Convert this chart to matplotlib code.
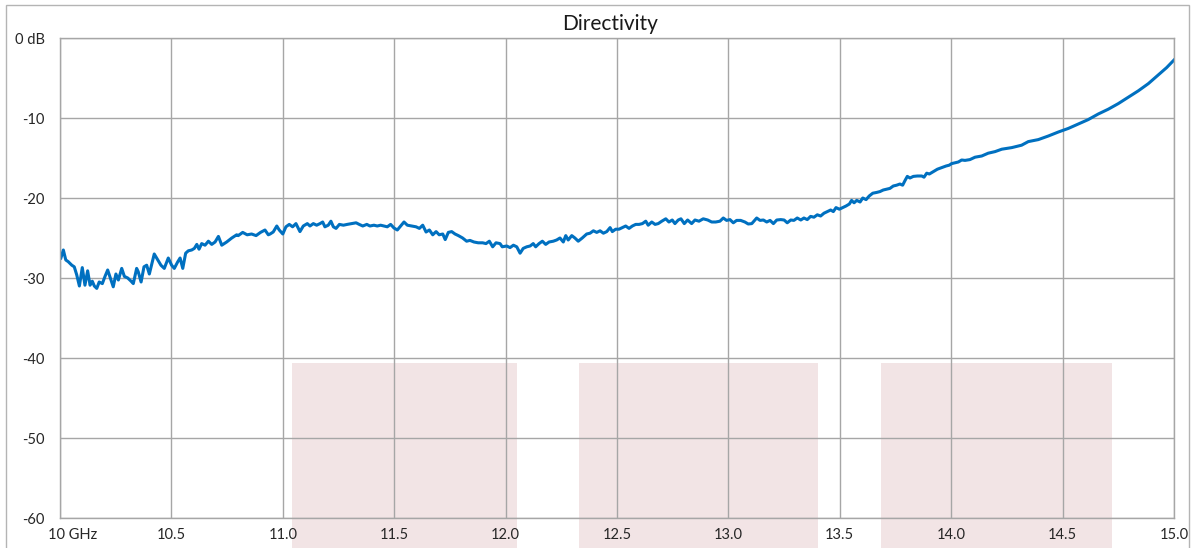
import matplotlib
matplotlib.use("Agg")
import matplotlib.pyplot as plt
import matplotlib.transforms as mtransforms
from matplotlib.patches import Rectangle

plt.rcParams['font.family'] = ['Lato', 'DejaVu Sans']

# frequency (GHz) and directivity (dB)
freq = [10.004, 10.015, 10.026, 10.037, 10.053, 10.064, 10.075, 10.087, 10.100, 10.112,
        10.124, 10.135, 10.145, 10.154, 10.165, 10.176, 10.190, 10.202, 10.214, 10.226,
        10.239, 10.251, 10.262, 10.277, 10.289, 10.304, 10.319, 10.329, 10.344, 10.351,
        10.364, 10.377, 10.389, 10.401, 10.414, 10.423, 10.439, 10.453, 10.468, 10.486,
        10.501, 10.513, 10.528, 10.539, 10.551, 10.564, 10.576, 10.591, 10.603, 10.614,
        10.624, 10.636, 10.651, 10.666, 10.681, 10.696, 10.711, 10.726, 10.748, 10.771,
        10.793, 10.800, 10.820, 10.840, 10.860, 10.880, 10.900, 10.920, 10.935,
        10.943, 10.957, 10.973, 10.984, 11.000, 11.014, 11.029, 11.044, 11.059, 11.077,
        11.092, 11.110, 11.122, 11.137, 11.152, 11.167, 11.179, 11.189, 11.204, 11.216,
        11.227, 11.239, 11.254, 11.272, 11.289, 11.309, 11.329, 11.343, 11.359, 11.377,
        11.391, 11.409, 11.424, 11.439, 11.454, 11.469, 11.484, 11.499, 11.514, 11.529,
        11.544, 11.559, 11.579, 11.598, 11.613, 11.628, 11.643, 11.658, 11.673, 11.688,
        11.702, 11.718, 11.729, 11.743, 11.758, 11.773, 11.788, 11.807, 11.825, 11.840,
        11.858, 11.877, 11.897, 11.912, 11.927, 11.942, 11.957, 11.975,
        11.985, 12.005, 12.020, 12.035, 12.050, 12.065, 12.079, 12.095, 12.110, 12.124,
        12.135, 12.150, 12.165, 12.180, 12.195, 12.214, 12.229, 12.244, 12.259, 12.270,
        12.281, 12.297, 12.311, 12.326, 12.344, 12.364, 12.379, 12.394, 12.409, 12.424,
        12.439, 12.454, 12.469, 12.479, 12.494, 12.509, 12.524, 12.539, 12.554, 12.569,
        12.584, 12.599, 12.614, 12.629, 12.640, 12.656, 12.671, 12.685, 12.701, 12.719,
        12.733, 12.748, 12.760, 12.775, 12.787, 12.802, 12.817, 12.835, 12.850, 12.868,
        12.887, 12.907, 12.925, 12.943, 12.962, 12.977, 12.992,
        13.007, 13.022, 13.037, 13.055, 13.074, 13.089, 13.105, 13.127, 13.142, 13.157,
        13.172, 13.187, 13.202, 13.217, 13.235, 13.250, 13.264, 13.280, 13.294, 13.309,
        13.325, 13.339, 13.354, 13.369, 13.384, 13.399, 13.414, 13.429, 13.444, 13.459,
        13.471, 13.483, 13.498, 13.513, 13.528, 13.543, 13.553, 13.564, 13.576, 13.591,
        13.603, 13.618, 13.632, 13.648, 13.666, 13.680, 13.695, 13.710, 13.725, 13.740,
        13.755, 13.770, 13.782, 13.793, 13.803, 13.815, 13.830, 13.848, 13.868, 13.878,
        13.890, 13.902, 13.920, 13.938, 13.957, 13.977, 13.991,
        14.002, 14.032, 14.047, 14.062, 14.084, 14.107, 14.137, 14.166, 14.197, 14.227,
        14.272, 14.316, 14.346, 14.391, 14.436, 14.481, 14.526, 14.570, 14.615, 14.660,
        14.705, 14.750, 14.795, 14.840, 14.885, 14.930, 14.967, 15.000]

directivity = [-27.5, -26.5, -27.75, -27.96, -28.4, -28.6, -29.6, -31.0, -28.7, -30.9,
               -29.1, -30.9, -30.4, -31.0, -31.3, -30.5, -30.7, -29.8, -29.0, -30.0,
               -31.1, -29.5, -30.25, -28.8, -29.8, -30.0, -30.4, -30.7, -28.8, -29.2,
               -30.5, -28.6, -28.4, -29.5, -28.0, -27.0, -27.75, -28.4, -28.8, -27.5,
               -28.4, -28.8, -28.0, -27.5, -28.8, -26.9, -26.6, -26.5, -26.3, -25.8,
               -26.4, -25.7, -25.9, -25.4, -25.8, -25.5, -24.8, -25.9, -25.5, -25.0,
               -24.6, -24.7, -24.3, -24.6, -24.5, -24.7, -24.3, -24.0, -24.6,
               -24.5, -24.25, -23.5, -24.0, -24.5, -23.6, -23.3, -23.6, -23.2, -24.2,
               -23.5, -23.2, -23.5, -23.2, -23.4, -23.2, -23.0, -23.6, -23.4, -22.9,
               -23.6, -23.8, -23.3, -23.4, -23.3, -23.2, -23.1, -23.3, -23.5, -23.3,
               -23.5, -23.4, -23.5, -23.4, -23.5, -23.6, -23.3, -23.75, -24.0, -23.5,
               -23.0, -23.4, -23.5, -23.6, -23.8, -23.4, -24.25, -24.0, -24.6, -24.2,
               -24.6, -24.5, -25.2, -24.3, -24.2, -24.5, -24.7, -25.0, -25.4, -25.3,
               -25.5, -25.6, -25.6, -25.7, -25.4, -26.1, -25.6, -25.7,
               -26.1, -26.0, -26.2, -25.9, -26.1, -26.9, -26.3, -26.1, -26.0, -25.7,
               -26.1, -25.7, -25.4, -25.8, -25.5, -25.4, -25.25, -25.0, -25.5, -24.7,
               -25.25, -24.7, -25.0, -25.4, -25.0, -24.5, -24.4, -24.1, -24.3, -24.1,
               -24.4, -24.2, -23.7, -24.2, -23.9, -23.9, -23.7, -23.5, -23.8, -23.5,
               -23.3, -23.3, -23.2, -22.9, -23.4, -23.0, -23.3, -23.2, -22.9, -22.6,
               -23.0, -22.75, -23.2, -22.75, -22.6, -23.2, -22.75, -23.2, -22.75, -22.9,
               -22.6, -22.75, -23.0, -23.0, -22.9, -22.5, -22.8,
               -22.7, -23.1, -22.8, -22.8, -23.0, -23.25, -23.2, -22.5, -22.8, -22.75,
               -23.0, -22.8, -23.2, -22.75, -22.7, -22.75, -23.1, -22.75, -22.8, -22.5,
               -22.75, -22.5, -22.7, -22.3, -22.4, -22.1, -22.25, -21.9, -21.7, -21.5,
               -21.7, -21.2, -21.4, -21.2, -21.0, -20.75, -20.3, -20.6, -20.3, -20.5,
               -20.0, -20.2, -19.75, -19.4, -19.3, -19.2, -19.0, -18.9, -18.8, -18.5,
               -18.4, -18.25, -18.4, -17.8, -17.3, -17.5, -17.3, -17.25, -17.25, -17.4,
               -16.9, -17.0, -16.7, -16.4, -16.2, -16.0, -15.9,
               -15.7, -15.5, -15.25, -15.3, -15.2, -14.9, -14.75, -14.4, -14.2, -13.9,
               -13.7, -13.4, -12.95, -12.7, -12.25, -11.75, -11.3, -10.75, -10.2, -9.5,
               -8.9, -8.2, -7.4, -6.6, -5.7, -4.6, -3.7, -2.75]

# shaded bands
band_start = [11.04, 12.33, 13.685]
band_end = [12.05, 13.40, 14.72]
band_top = -40.6
band_bottom = -63.75

xticks = [10.0, 10.5, 11.0, 11.5, 12.0, 12.5, 13.0, 13.5, 14.0, 14.5, 15.0]
xlabels = ['10 GHz', '10.5', '11.0', '11.5', '12.0', '12.5', '13.0', '13.5', '14.0', '14.5', '15.0']
yticks = [0, -10, -20, -30, -40, -50, -60]
ylabels = ['0 dB', '-10', '-20', '-30', '-40', '-50', '-60']

W, H = 1194, 548
fig = plt.figure(figsize=(W / 100, H / 100), dpi=100)
ax = fig.add_axes([60 / W, 1 - 518 / H, (1174 - 60) / W, (518 - 38) / H])

# outer chart frame
fig.patches.append(Rectangle((6 / W, -0.05), (1189 - 6) / W, 1.05 - 5 / H,
                             transform=fig.transFigure, fill=False,
                             edgecolor='#B4B4B4', linewidth=1.0))

widths = [e - s for s, e in zip(band_start, band_end)]
ax.bar(band_start, band_top - band_bottom, width=widths, bottom=band_bottom,
       align='edge', color='#F2E4E5', linewidth=0, clip_on=False, zorder=0.1)

ax.plot(freq, directivity, color='#0070C0', linewidth=2.2, zorder=2)

ax.set_xlim(10, 15)
ax.set_ylim(-60, 0)
ax.set_xticks(xticks)
ax.set_xticklabels(xlabels)
ax.set_yticks(yticks)
ax.set_yticklabels(ylabels)
ax.tick_params(axis='both', length=0, labelsize=10.5, colors='#262626')
ax.tick_params(axis='x', pad=7)
ax.tick_params(axis='y', pad=11)
ax.set_axisbelow(True)
ax.grid(True, color='#A6A6A6', linewidth=1.0)
for s in ax.spines.values():
    s.set_color('#A6A6A6')
    s.set_linewidth(1.0)

first = ax.get_xticklabels()[0]
first.set_ha('left')
first.set_transform(first.get_transform() +
                    mtransforms.ScaledTranslation(-12 / 100, 0, fig.dpi_scale_trans))

ax.set_title('Directivity', fontsize=15, color='#1a1a1a', pad=6, x=(610 - 60) / 1114)

fig.savefig('out.png', dpi=100)
